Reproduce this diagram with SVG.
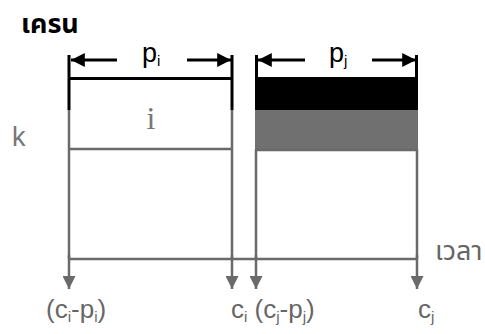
<svg xmlns="http://www.w3.org/2000/svg" width="485" height="334" viewBox="0 0 485 334">
<defs>
<style>
.blk{stroke:#000;stroke-width:3;fill:none}
.gry{stroke:#6a6a6a;stroke-width:2.5;fill:none}
.lbl{font-family:"Liberation Sans",Arial,sans-serif;fill:#666}
.th{font-family:"Noto Sans Thai","Noto Sans","DejaVu Sans",sans-serif}
</style>
<marker id="ah" viewBox="0 0 10 10" refX="10" refY="5" markerWidth="6" markerHeight="4.6" markerUnits="strokeWidth" orient="auto">
<path d="M0,0 L10,5 L0,10 z" fill="#000"/>
</marker>
<marker id="ag" viewBox="0 0 10 10" refX="10" refY="5" markerWidth="6.5" markerHeight="5.2" markerUnits="strokeWidth" orient="auto">
<path d="M0,0 L10,5 L0,10 z" fill="#6a6a6a"/>
</marker>
</defs>
<rect width="485" height="334" fill="#fff"/>
<text x="21" y="33" class="th" font-size="27" font-weight="bold" fill="#000">เครน</text>
<text x="12" y="146" class="lbl" font-size="27" style="fill:#777">k</text>
<text x="435" y="260" class="th" font-size="27" fill="#666">เวลา</text>

<g id="job-i">
<line class="gry" x1="69" y1="110" x2="69" y2="259"/>
<line class="gry" x1="232" y1="110" x2="232" y2="259"/>
<line class="blk" x1="69" y1="55" x2="69" y2="110"/>
<line class="blk" x1="232" y1="55" x2="232" y2="110"/>
<line class="blk" x1="69" y1="78.5" x2="232" y2="78.5"/>
<line class="gry" x1="69" y1="149" x2="232" y2="149"/>
<text x="151" y="129" font-family="Liberation Serif,serif" font-size="32" fill="#777" text-anchor="middle">i</text>
</g>

<g id="job-j">
<rect x="255" y="77" width="163" height="33" fill="#000"/>
<rect x="255" y="110" width="163" height="39" fill="#707070"/>
<line class="blk" x1="256.5" y1="55" x2="256.5" y2="78"/>
<line class="blk" x1="416.5" y1="55" x2="416.5" y2="78"/>
<line class="gry" x1="256" y1="149" x2="256" y2="259"/>
<line class="gry" x1="417" y1="149" x2="417" y2="259"/>
<line class="gry" x1="256" y1="150" x2="417" y2="150"/>
</g>

<g id="connectors">
<line class="blk" x1="117" y1="60" x2="71" y2="60" marker-end="url(#ah)"/>
<line class="blk" x1="187" y1="60" x2="231" y2="60" marker-end="url(#ah)"/>
<line class="blk" x1="305" y1="60" x2="258" y2="60" marker-end="url(#ah)"/>
<line class="blk" x1="372" y1="60" x2="416" y2="60" marker-end="url(#ah)"/>
<line class="gry" x1="69" y1="259" x2="417" y2="259"/>
<line class="gry" x1="69" y1="255" x2="69" y2="289" marker-end="url(#ag)"/>
<line class="gry" x1="232" y1="255" x2="232" y2="289" marker-end="url(#ag)"/>
<line class="gry" x1="256" y1="255" x2="256" y2="289" marker-end="url(#ag)"/>
<line class="gry" x1="417" y1="255" x2="417" y2="289" marker-end="url(#ag)"/>
</g>

<g id="labels">
<text x="142" y="62" class="lbl" font-size="27" style="fill:#000">p<tspan font-size="15" dy="4">i</tspan></text>
<text x="329" y="62" class="lbl" font-size="27" style="fill:#000">p<tspan font-size="15" dy="4">j</tspan></text>
<text x="46" y="318" class="lbl" font-size="26">(c<tspan font-size="15" dy="4">i</tspan><tspan dy="-4">-p</tspan><tspan font-size="15" dy="4">i</tspan><tspan dy="-4">)</tspan></text>
<text x="231" y="318" class="lbl" font-size="26">c<tspan font-size="15" dy="4">i</tspan><tspan dy="-4"> (c</tspan><tspan font-size="15" dy="4">j</tspan><tspan dy="-4">-p</tspan><tspan font-size="15" dy="4">j</tspan><tspan dy="-4">)</tspan></text>
<text x="418" y="318" class="lbl" font-size="26">c<tspan font-size="15" dy="4">j</tspan></text>
</g>
</svg>
